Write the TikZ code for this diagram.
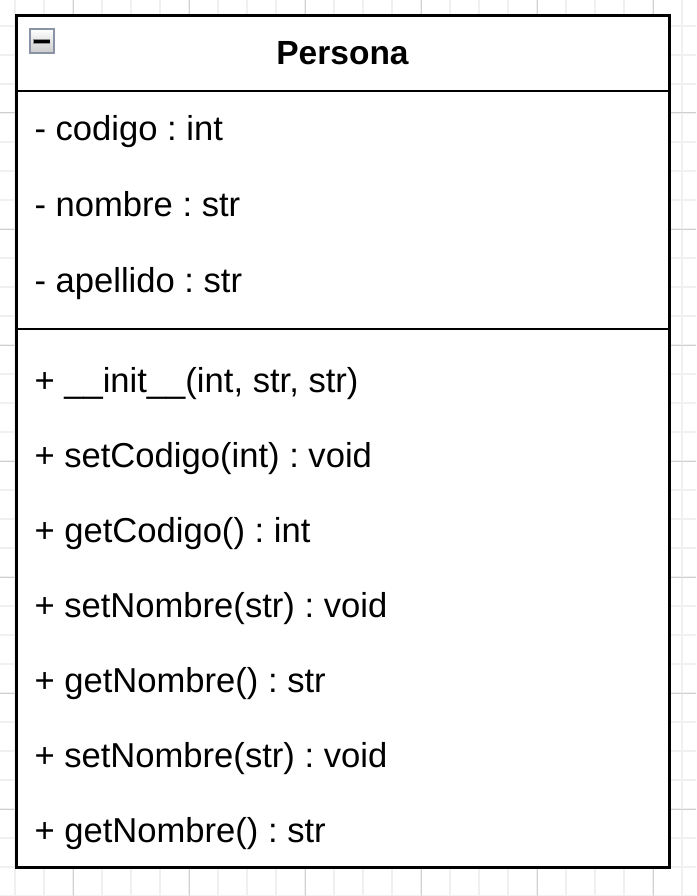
\documentclass[tikz,border=0pt]{standalone}
\usepackage{fontspec}
\setmainfont{Liberation Sans}
\frenchspacing

\definecolor{gridminor}{HTML}{F0F0F0}
\definecolor{gridmajor}{HTML}{D0D0D0}
\definecolor{iconframe}{HTML}{8A93A5}

\tikzset{
	member/.style={anchor=base west, inner sep=0pt},
	sepline/.style={line width=2.5pt},
}

\begin{document}
\begin{tikzpicture}[x=1pt, y=-1pt, font=\fontsize{34.6}{40}\selectfont, line width=3pt]
		\useasboundingbox (0,0) rectangle (696,896);
		\fill[white] (0,0) rectangle (696,896);
		
		% background grid
		\foreach \x in {-14,15,...,700} \draw[gridminor, line width=1.2pt] (\x,0) -- (\x,896);
		\foreach \y in {-3,26,...,900} \draw[gridminor, line width=1.2pt] (0,\y) -- (696,\y);
		\foreach \x in {73,189,...,700} \draw[gridmajor, line width=1pt] (\x,0) -- (\x,896);
		\foreach \y in {113,229,...,900} \draw[gridmajor, line width=1pt] (0,\y) -- (696,\y);
		
		% class box
		\fill[white] (16,16) rectangle (669,867);
		\draw (16,16) rectangle (669,867);
		\draw[sepline] (16,91) -- (669,91);
		\draw[sepline] (16,329) -- (669,329);
		
		% collapse icon
		\shade[top color=white, bottom color=black!22] (29,29) rectangle (54,54);
		\draw[iconframe, line width=2pt] (29.5,29.5) rectangle (53.5,53.5);
		\draw[black!45, line width=4.5pt] (33,41.5) -- (50,41.5);
		\draw[black, line width=2.5pt] (33.5,41.5) -- (49.5,41.5);
		
		\node[anchor=base, inner sep=0pt, font=\fontsize{33.5}{40}\selectfont\bfseries] (title) at (342.5,65) {Persona};
		
		\node[member] (codigo) at (33,141) {- codigo : int};
		\node[member] (nombre) at (33,216.5) {- nombre : str};
		\node[member] (apellido) at (33,292) {- apellido : str};
		
		\node[member] (init) at (33,392) {+ \_\_init\_\_(int, str, str)};
		\node[member] (setcodigo) at (33,467) {+ setCodigo(int) : void};
		\node[member] (getcodigo) at (33,542) {+ getCodigo() : int};
		\node[member] (setnombre) at (33,617) {+ setNombre(str) : void};
		\node[member] (getnombre) at (33,692.5) {+ getNombre() : str};
		\node[member] (setnombreb) at (33,767.5) {+ setNombre(str) : void};
		\node[member] (getnombreb) at (33,842.5) {+ getNombre() : str};
	\end{tikzpicture}
\end{document}
